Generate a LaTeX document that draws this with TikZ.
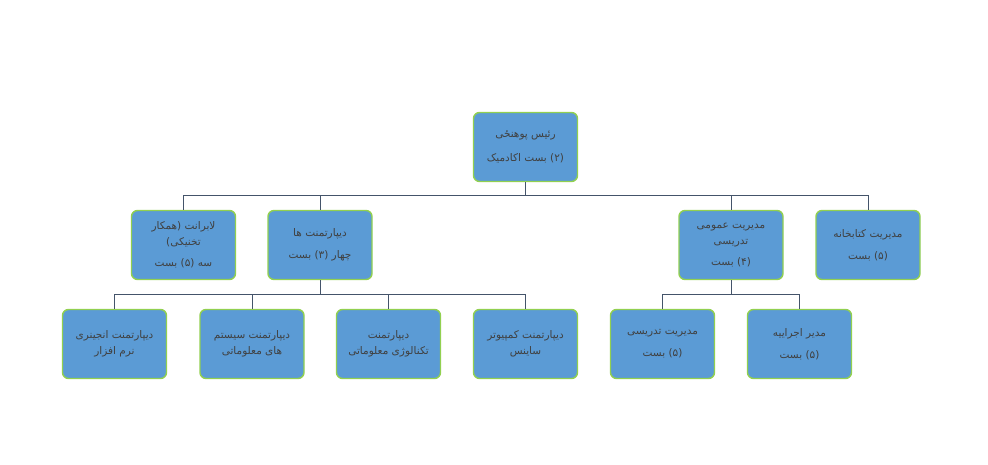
\documentclass[tikz,border=0pt]{standalone}
\usepackage{fontspec}
\TeXXeTstate=1
\newfontfamily\arabicfont[Script=Arabic]{DejaVu Sans}
\newcommand{\dari}[1]{\beginR #1\endR}
\definecolor{boite}{HTML}{5B9BD5}
\definecolor{bord}{HTML}{92D050}
\definecolor{trait}{HTML}{44546A}
\definecolor{texte}{HTML}{404040}
\begin{document}
\begin{tikzpicture}[x=1pt,y=1pt,
  poste/.style={draw=bord,fill=boite,line width=1.4pt,rounded corners=6pt,minimum width=104pt,minimum height=69pt,align=center,text=texte,font=\arabicfont\fontsize{10.5}{16}\selectfont},
  lien/.style={draw=trait,line width=0.8pt}]
% Organigramme de la faculté
\useasboundingbox (0,0) rectangle (988,465);
\node[poste] (rais) at (525.5,318) {\dari{رئیس پوهنځی}\\[8pt]\dari{(۲) بست اکادمیک}};
\node[poste] (lab) at (183.5,220) {\dari{لابرانت (همکار}\\\dari{تخنیکی)}\\[5pt]\dari{سه (۵) بست}};
\node[poste] (dept) at (320,220) {\dari{دیپارتمنت ها}\\[6pt]\dari{چهار (۳) بست}};
\node[poste] (omumi) at (731,220) {\dari{مدیریت عمومی}\\\dari{تدریسی}\\[5pt]\dari{(۴) بست}};
\node[poste] (ketab) at (868,220) {\dari{مدیریت کتابخانه}\\[6pt]\dari{(۵) بست}};
\node[poste] (software) at (114.5,121) {\dari{دیپارتمنت انجینری}\\\dari{نرم افزار}};
\node[poste] (infosys) at (252,121) {\dari{دیپارتمنت سیستم}\\\dari{های معلوماتی}};
\node[poste] (infotech) at (388.5,121) {\dari{دیپارتمنت}\\\dari{تکنالوژی معلوماتی}};
\node[poste] (compsci) at (525.5,121) {\dari{دیپارتمنت کمپیوتر}\\\dari{ساینس}};
\node[poste] (tadrisi) at (662.5,121) {\dari{مدیریت تدریسی}\\[6pt]\dari{(۵) بست}};
\node[poste] (ejraia) at (799.5,121) {\dari{مدیر اجراییه}\\[6pt]\dari{(۵) بست}};
\draw[lien] (rais.south) -- ++(0,-13) -| (lab.north);
\draw[lien] (rais.south) -- ++(0,-13) -| (dept.north);
\draw[lien] (rais.south) -- ++(0,-13) -| (omumi.north);
\draw[lien] (rais.south) -- ++(0,-13) -| (ketab.north);
\draw[lien] (dept.south) -- ++(0,-14) -| (software.north);
\draw[lien] (dept.south) -- ++(0,-14) -| (infosys.north);
\draw[lien] (dept.south) -- ++(0,-14) -| (infotech.north);
\draw[lien] (dept.south) -- ++(0,-14) -| (compsci.north);
\draw[lien] (omumi.south) -- ++(0,-14) -| (tadrisi.north);
\draw[lien] (omumi.south) -- ++(0,-14) -| (ejraia.north);
\end{tikzpicture}
\end{document}
